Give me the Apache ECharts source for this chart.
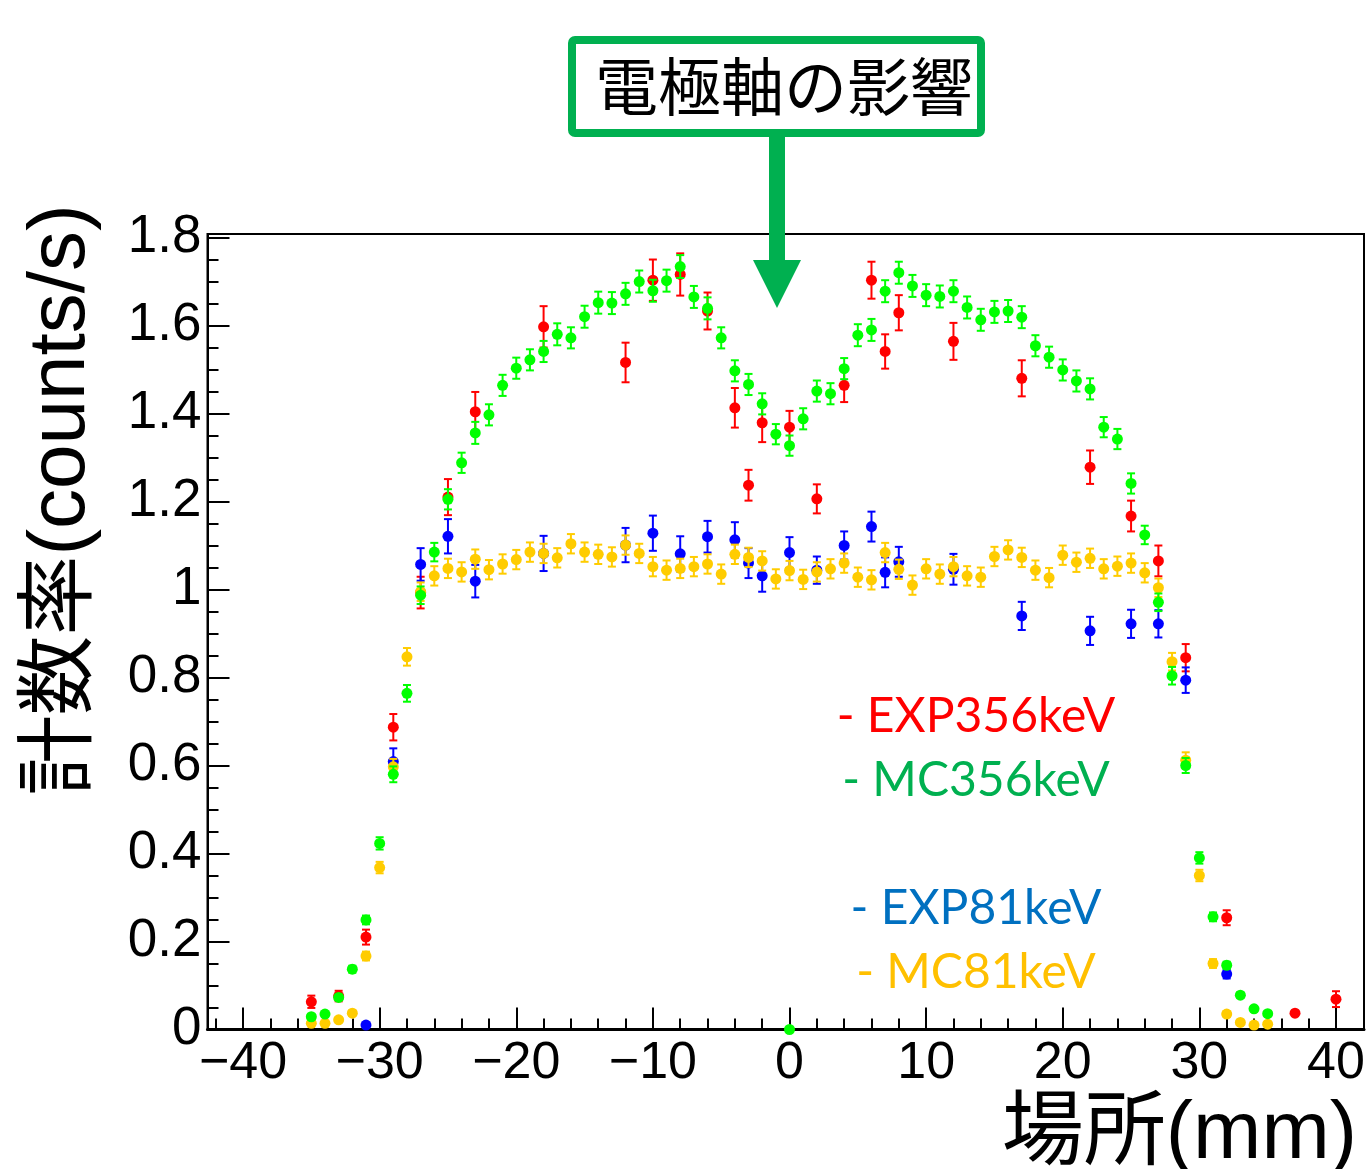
<!DOCTYPE html>
<html>
<head>
<meta charset="utf-8">
<script src="https://cdn.jsdelivr.net/npm/echarts@6/dist/echarts.min.js"></script>
<style>
html, body { margin: 0; padding: 0; background: #fff; }
#chart { width: 1369px; height: 1169px; }
</style>
</head>
<body>
<div id="chart"></div>
<script>
// EXP 356keV (red)
var exp356X = [-35, -33, -31, -29, -27, -25, -23, -18, -12, -10, -8, -6, -4, -3, -2, 0, 2, 4, 6, 7, 8, 12, 17, 22, 25, 27, 29, 32, 37, 40];
var exp356Y = [0.063, 0.076, 0.21, 0.687, 0.993, 1.21, 1.404, 1.597, 1.516, 1.703, 1.716, 1.633, 1.413, 1.237, 1.379, 1.369, 1.206, 1.464, 1.703, 1.541, 1.629, 1.564, 1.48, 1.278, 1.167, 1.065, 0.845, 0.254, 0.037, 0.069];
var exp356Err = [0.014, 0.012, 0.017, 0.03, 0.036, 0.041, 0.045, 0.047, 0.045, 0.047, 0.048, 0.042, 0.045, 0.035, 0.044, 0.037, 0.033, 0.038, 0.042, 0.039, 0.04, 0.042, 0.041, 0.038, 0.035, 0.035, 0.031, 0.017, 0.005, 0.018];

// MC 356keV (green)
var mc356X = [-35, -34, -33, -32, -31, -30, -29, -28, -27, -26, -25, -24, -23, -22, -21, -20, -19, -18, -17, -16, -15, -14, -13, -12, -11, -10, -9, -8, -7, -6, -5, -4, -3, -2, -1, 0, 1, 2, 3, 4, 5, 6, 7, 8, 9, 10, 11, 12, 13, 14, 15, 16, 17, 18, 19, 20, 21, 22, 23, 24, 25, 26, 27, 28, 29, 30, 31, 32, 33, 34, 35, 0];
var mc356Y = [0.029, 0.035, 0.073, 0.137, 0.249, 0.423, 0.58, 0.764, 0.987, 1.085, 1.205, 1.288, 1.356, 1.397, 1.464, 1.503, 1.522, 1.541, 1.58, 1.572, 1.62, 1.652, 1.651, 1.672, 1.70, 1.679, 1.702, 1.734, 1.665, 1.639, 1.572, 1.497, 1.466, 1.422, 1.353, 1.327, 1.388, 1.451, 1.445, 1.502, 1.578, 1.59, 1.678, 1.72, 1.69, 1.669, 1.666, 1.678, 1.641, 1.613, 1.631, 1.633, 1.619, 1.554, 1.528, 1.499, 1.474, 1.456, 1.369, 1.342, 1.241, 1.124, 0.971, 0.804, 0.60, 0.39, 0.256, 0.146, 0.078, 0.047, 0.036, 0];
var mc356Err = [0.005, 0.005, 0.006, 0.008, 0.01, 0.014, 0.018, 0.019, 0.02, 0.021, 0.023, 0.023, 0.025, 0.024, 0.024, 0.024, 0.024, 0.024, 0.025, 0.024, 0.025, 0.025, 0.025, 0.025, 0.025, 0.025, 0.025, 0.026, 0.025, 0.025, 0.024, 0.024, 0.024, 0.024, 0.023, 0.023, 0.024, 0.024, 0.024, 0.024, 0.025, 0.025, 0.025, 0.025, 0.025, 0.025, 0.025, 0.025, 0.025, 0.025, 0.025, 0.025, 0.025, 0.024, 0.024, 0.024, 0.024, 0.024, 0.023, 0.023, 0.023, 0.021, 0.02, 0.02, 0.017, 0.013, 0.01, 0.008, 0.006, 0.005, 0.005, 0];

// EXP 81keV (blue)
var exp81X = [-31, -29, -27, -25, -23, -18, -12, -10, -8, -6, -4, -3, -2, 0, 2, 4, 6, 7, 8, 12, 17, 22, 25, 27, 29, 32];
var exp81Y = [0.01, 0.609, 1.057, 1.121, 1.019, 1.082, 1.101, 1.128, 1.081, 1.12, 1.113, 1.06, 1.031, 1.084, 1.044, 1.1, 1.143, 1.039, 1.063, 1.046, 0.94, 0.906, 0.922, 0.922, 0.794, 0.126];
var exp81Err = [0.005, 0.03, 0.037, 0.039, 0.037, 0.04, 0.039, 0.04, 0.04, 0.036, 0.04, 0.034, 0.036, 0.035, 0.031, 0.032, 0.034, 0.034, 0.034, 0.035, 0.032, 0.032, 0.032, 0.031, 0.029, 0.01];

// MC 81keV (yellow)
var mc81X = [-35, -34, -33, -32, -31, -30, -29, -28, -27, -26, -25, -24, -23, -22, -21, -20, -19, -18, -17, -16, -15, -14, -13, -12, -11, -10, -9, -8, -7, -6, -5, -4, -3, -2, -1, 0, 1, 2, 3, 4, 5, 6, 7, 8, 9, 10, 11, 12, 13, 14, 15, 16, 17, 18, 19, 20, 21, 22, 23, 24, 25, 26, 27, 28, 29, 30, 31, 32, 33, 34, 35];
var mc81Y = [0.014, 0.014, 0.022, 0.037, 0.167, 0.368, 0.597, 0.847, 0.995, 1.031, 1.048, 1.04, 1.069, 1.045, 1.058, 1.068, 1.085, 1.082, 1.072, 1.104, 1.085, 1.08, 1.074, 1.101, 1.082, 1.052, 1.044, 1.048, 1.052, 1.058, 1.035, 1.08, 1.073, 1.065, 1.024, 1.043, 1.023, 1.04, 1.047, 1.06, 1.028, 1.022, 1.084, 1.046, 1.01, 1.047, 1.035, 1.052, 1.031, 1.028, 1.075, 1.09, 1.073, 1.044, 1.027, 1.078, 1.062, 1.071, 1.047, 1.053, 1.06, 1.038, 1.004, 0.836, 0.612, 0.35, 0.15, 0.035, 0.016, 0.01, 0.012];
var mc81Err = [0.004, 0.004, 0.005, 0.006, 0.01, 0.013, 0.018, 0.02, 0.021, 0.022, 0.022, 0.022, 0.022, 0.022, 0.022, 0.022, 0.022, 0.022, 0.022, 0.022, 0.022, 0.022, 0.022, 0.022, 0.022, 0.022, 0.022, 0.022, 0.022, 0.022, 0.022, 0.022, 0.022, 0.022, 0.022, 0.022, 0.022, 0.022, 0.022, 0.022, 0.022, 0.022, 0.022, 0.022, 0.022, 0.022, 0.022, 0.022, 0.022, 0.022, 0.022, 0.022, 0.022, 0.022, 0.022, 0.022, 0.022, 0.022, 0.022, 0.022, 0.022, 0.022, 0.021, 0.02, 0.018, 0.013, 0.01, 0.006, 0.004, 0.004, 0.004];

// axis ticks / labels
var xMajorTicks = [-40, -30, -20, -10, 0, 10, 20, 30, 40];
var xMinorTicks = [-42, -38, -36, -34, -32, -28, -26, -24, -22, -18, -16, -14, -12, -8, -6, -4, -2, 2, 4, 6, 8, 12, 14, 16, 18, 22, 24, 26, 28, 32, 34, 36, 38, 42];
var yMajorTicks = [0, 0.2, 0.4, 0.6, 0.8, 1, 1.2, 1.4, 1.6, 1.8];
var yMinorTicks = [0.05, 0.1, 0.15, 0.25, 0.3, 0.35, 0.45, 0.5, 0.55, 0.65, 0.7, 0.75, 0.85, 0.9, 0.95, 1.05, 1.1, 1.15, 1.25, 1.3, 1.35, 1.45, 1.5, 1.55, 1.65, 1.7, 1.75];

var legendTexts = ['- EXP356keV', '- MC356keV', '- EXP81keV', '- MC81keV'];
var legendColors = ['#ff0000', '#00b050', '#0070c0', '#ffc000'];

var latinFont = '"Liberation Sans", "Noto Sans CJK JP", sans-serif';

var toPoints = function(xs, ys, errs){
	var out = [];
	for( var i = 0; i < xs.length; i++ ){
		out.push( [xs[i], ys[i], errs[i]] );
	}
	return out;
};

// vertical error bar with small caps, drawn through the axes
var errorBars = function(name, color, data, z){
	return {
		name: name,
		type: 'custom',
		z: z,
		silent: true,
		data: data,
		encode: {x: 0, y: 1},
		renderItem: function(params, api){
			var x = api.value( 0 ), y = api.value( 1 ), e = api.value( 2 );
			var top = api.coord( [x, y + e] );
			var bot = api.coord( [x, y - e] );
			var w = 4;
			var st = {stroke: color, lineWidth: 2};
			return {
				type: 'group',
				children: [
					{type: 'line', shape: {x1: top[0], y1: top[1], x2: bot[0], y2: bot[1]}, style: st},
					{type: 'line', shape: {x1: top[0] - w, y1: top[1], x2: top[0] + w, y2: top[1]}, style: st},
					{type: 'line', shape: {x1: bot[0] - w, y1: bot[1], x2: bot[0] + w, y2: bot[1]}, style: st}
				]
			};
		}
	};
};

var dots = function(name, color, data, z){
	return {
		name: name,
		type: 'scatter',
		z: z,
		silent: true,
		symbol: 'circle',
		symbolSize: 11,
		itemStyle: {color: color, opacity: 1},
		data: data
	};
};

var exp356 = toPoints( exp356X, exp356Y, exp356Err );
var exp81 = toPoints( exp81X, exp81Y, exp81Err );
var mc81 = toPoints( mc81X, mc81Y, mc81Err );
var mc356 = toPoints( mc356X, mc356Y, mc356Err );

var chart = echarts.init( document.getElementById( 'chart' ), null, {renderer: 'canvas'} );

var legendGraphics = [];
var legendY = [717, 781, 909, 973];
for( var i = 0; i < legendTexts.length; i++ ){
	legendGraphics.push( {
		type: 'text',
		x: 976,
		y: legendY[i],
		style: {
			text: legendTexts[i],
			fill: legendColors[i],
			font: '48px Lato, "Open Sans", sans-serif',
			align: 'center',
			verticalAlign: 'middle'
		}
	} );
}

chart.setOption( {
	animation: false,
	backgroundColor: '#fff',
	grid: {
		left: 207.5,
		right: 5,
		top: 234,
		bottom: 139.5,
		show: true,
		borderColor: '#000',
		borderWidth: 2,
		backgroundColor: 'transparent'
	},
	xAxis: [
		{
			type: 'value',
			min: -42.6,
			max: 42.05,
			position: 'bottom',
			axisLine: {show: true, onZero: false, lineStyle: {color: '#000', width: 3}},
			axisTick: {show: true, inside: true, length: 22, customValues: xMajorTicks, lineStyle: {color: '#000', width: 2}},
			axisLabel: {
				show: true,
				customValues: xMajorTicks,
				margin: 8,
				color: '#000',
				fontSize: 52,
				fontFamily: latinFont,
				formatter: function(v){ return String( v ).replace( '-', '\u2212' ); }
			},
			splitLine: {show: false}
		},
		{
			type: 'value',
			min: -42.6,
			max: 42.05,
			position: 'bottom',
			axisLine: {show: false, onZero: false},
			axisTick: {show: true, inside: true, length: 11, customValues: xMinorTicks, lineStyle: {color: '#000', width: 2}},
			axisLabel: {show: false},
			splitLine: {show: false}
		}
	],
	yAxis: [
		{
			type: 'value',
			min: 0,
			max: 1.808,
			position: 'left',
			axisLine: {show: true, onZero: false, lineStyle: {color: '#000', width: 2}},
			axisTick: {show: true, inside: true, length: 22, customValues: yMajorTicks, lineStyle: {color: '#000', width: 2}},
			axisLabel: {
				show: true,
				customValues: yMajorTicks,
				margin: 6,
				color: '#000',
				fontSize: 53,
				fontFamily: latinFont
			},
			splitLine: {show: false}
		},
		{
			type: 'value',
			min: 0,
			max: 1.808,
			position: 'left',
			axisLine: {show: false, onZero: false},
			axisTick: {show: true, inside: true, length: 11, customValues: yMinorTicks, lineStyle: {color: '#000', width: 2}},
			axisLabel: {show: false},
			splitLine: {show: false}
		}
	],
	series: [
		errorBars( 'EXP356keV', '#ff0000', exp356, 2 ),
		dots( 'EXP356keV', '#ff0000', exp356, 3 ),
		errorBars( 'EXP81keV', '#0000ff', exp81, 4 ),
		dots( 'EXP81keV', '#0000ff', exp81, 5 ),
		errorBars( 'MC81keV', '#ffcc00', mc81, 6 ),
		dots( 'MC81keV', '#ffcc00', mc81, 7 ),
		errorBars( 'MC356keV', '#00ff00', mc356, 8 ),
		dots( 'MC356keV', '#00ff00', mc356, 9 )
	],
	graphic: [
		// annotation box + arrow
		{
			type: 'rect',
			z: 100,
			shape: {x: 572, y: 40, width: 409, height: 93, r: 3},
			style: {fill: '#fff', stroke: '#00b050', lineWidth: 8}
		},
		{
			type: 'text',
			z: 101,
			x: 784,
			y: 86,
			style: {
				text: '電極軸の影響',
				fill: '#000',
				font: '63px "Noto Sans CJK JP"',
				align: 'center',
				verticalAlign: 'middle'
			}
		},
		{
			type: 'rect',
			z: 100,
			shape: {x: 769, y: 136, width: 16, height: 126},
			style: {fill: '#00b050'}
		},
		{
			type: 'polygon',
			z: 100,
			shape: {points: [[753, 260], [801, 260], [777, 308]]},
			style: {fill: '#00b050'}
		},
		// axis titles
		{
			type: 'text',
			z: 100,
			x: 62,
			y: 500,
			rotation: Math.PI / 2,
			style: {
				text: '計数率(counts/s)',
				fill: '#000',
				font: '80px ' + latinFont,
				align: 'center',
				verticalAlign: 'middle'
			}
		},
		{
			type: 'text',
			z: 100,
			x: 1357,
			y: 1135,
			style: {
				text: '場所(mm)',
				fill: '#000',
				font: '82px ' + latinFont,
				align: 'right',
				verticalAlign: 'middle'
			}
		}
	].concat( legendGraphics )
} );
</script>
</body>
</html>
